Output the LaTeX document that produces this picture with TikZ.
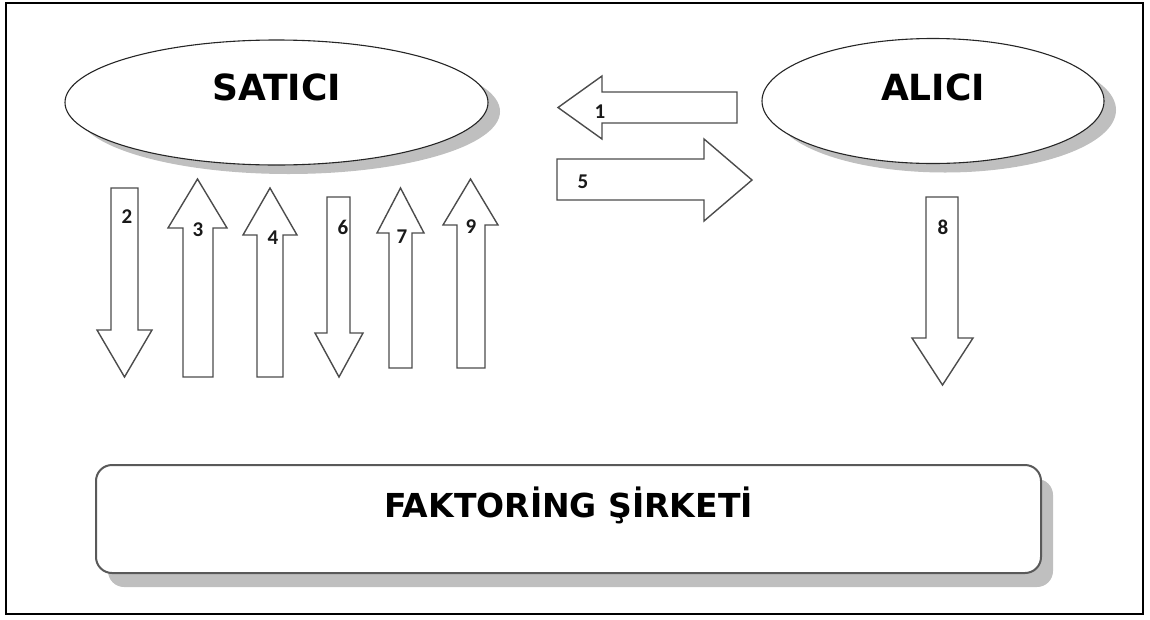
\documentclass[tikz,border=0pt]{standalone}
\usepackage{fontspec}
\setmainfont{DejaVu Sans}
\newfontfamily\numfont{Carlito}
\usetikzlibrary{shapes.geometric,shadows}
\begin{document}
\begin{tikzpicture}[x=1pt,y=-1pt,
  ell/.style={ellipse, draw=black!85, line width=1.1pt, fill=white, inner sep=0pt,
    drop shadow={shadow xshift=12pt, shadow yshift=-9pt, fill=black!25, opacity=1}},
  firm/.style={rectangle, rounded corners=16pt, draw=black!65, line width=2pt, fill=white, inner sep=0pt,
    drop shadow={shadow xshift=12pt, shadow yshift=-14pt, fill=black!25, opacity=1}},
  title/.style={font=\bfseries\fontsize{36}{40}\selectfont, inner sep=0pt},
  ftitle/.style={font=\bfseries\fontsize{33}{38}\selectfont, inner sep=0pt},
  blk/.style={draw=black!70, line width=1.4pt, fill=white, line join=miter},
  num/.style={font=\numfont\bfseries\fontsize{21}{24}\selectfont, inner sep=0pt, text=black!90}]
\useasboundingbox (0,0) rectangle (1150,619);
\draw[line width=2pt] (6,2.7) rectangle (1142.5,614.3);

% ellipses
\node[ell, minimum width=423pt, minimum height=125pt] (sat) at (276.5,102.5) {};
\node[title] (satt) at (276.5,87) {SATICI};
\node[ell, minimum width=342pt, minimum height=125pt] (ali) at (933,101) {};
\node[title] (alit) at (933,87) {ALICI};

% factoring company
\node[firm, minimum width=945pt, minimum height=108pt] (fak) at (568.5,519) {};
\node[ftitle] (fakt) at (568.5,505) {FAKTOR\.ING \c{S}\.IRKET\.I};

% horizontal block arrows
\draw[blk] (737,92)--(602,92)--(602,76)--(558,107.5)--(602,139)--(602,123)--(737,123)--cycle;
\node[num] (n1) at (600,112) {1};
\draw[blk] (557,159)--(704,159)--(704,139)--(752,180)--(704,221)--(704,200)--(557,200)--cycle;
\node[num] (n5) at (583,182) {5};

% vertical block arrows
% 2 down
\draw[blk] (111,188)--(138,188)--(138,330)--(152,330)--(124.5,377)--(97,330)--(111,330)--cycle;
\node[num] (n2) at (127,217) {2};
% 3 up
\draw[blk] (183,377)--(213,377)--(213,228)--(227,228)--(197.5,179)--(168,228)--(183,228)--cycle;
\node[num] (n3) at (198,230) {3};
% 4 up
\draw[blk] (257,377)--(283,377)--(283,235)--(297,235)--(270,188)--(243,235)--(257,235)--cycle;
\node[num] (n4) at (273,238) {4};
% 6 down
\draw[blk] (327,197)--(350,197)--(350,333)--(363,333)--(339,377)--(315,333)--(327,333)--cycle;
\node[num] (n6) at (343,227) {6};
% 7 up
\draw[blk] (389,368)--(412,368)--(412,233)--(424,233)--(400.5,188)--(377,233)--(389,233)--cycle;
\node[num] (n7) at (402,237) {7};
% 9 up
\draw[blk] (457,368)--(485,368)--(485,225)--(498,225)--(470.5,179)--(443,225)--(457,225)--cycle;
\node[num] (n9) at (471,227) {9};
% 8 down
\draw[blk] (926,197)--(958,197)--(958,338)--(973,338)--(942.5,385)--(912,338)--(926,338)--cycle;
\node[num] (n8) at (943,227) {8};
\end{tikzpicture}
\end{document}
